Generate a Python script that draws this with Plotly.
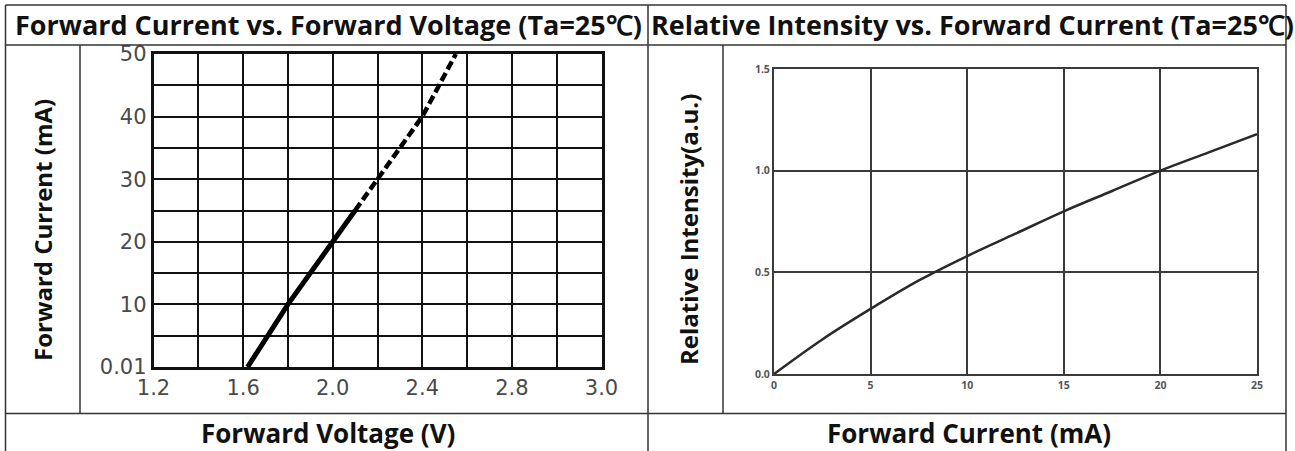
import plotly.graph_objects as go

W, H = 1295, 451


def px(x):
    return x / W


def py(y):
    return 1 - y / H


# ---------------- data ----------------
# Left chart: Forward Current vs. Forward Voltage
vf_solid = [1.62, 1.80, 2.00, 2.10]
if_solid = [0, 10, 20, 25]
vf_dash = [2.10, 2.20, 2.40, 2.55]
if_dash = [25, 30, 40, 50]
v_tickvals = [1.2, 1.4, 1.6, 1.8, 2.0, 2.2, 2.4, 2.6, 2.8, 3.0, 3.2]
v_ticktext = ["1.2", "", "1.6", "", "2.0", "", "2.4", "", "2.8", "", "3.0"]
i_tickvals = [0, 5, 10, 15, 20, 25, 30, 35, 40, 45, 50]
i_ticktext = ["0.01", "", "10", "", "20", "", "30", "", "40", "", "50"]

# Right chart: Relative Intensity vs. Forward Current
fc = [0, 2.5, 5, 7.5, 10, 12.5, 15, 17.5, 20, 22.5, 25]
rel_int = [0, 0.17, 0.32, 0.46, 0.58, 0.69, 0.80, 0.90, 1.00, 1.09, 1.18]
fc_tickvals = [0, 5, 10, 15, 20, 25]
ri_tickvals = [0, 0.5, 1.0, 1.5]
ri_ticktext = ["0.0", "0.5", "1.0", "1.5"]

title_left = "Forward Current vs. Forward Voltage (Ta=25℃)"
title_right = "Relative Intensity vs. Forward Current (Ta=25℃)"
ytitle_left = "Forward Current (mA)"
ytitle_right = "Relative Intensity(a.u.)"
xtitle_left = "Forward Voltage (V)"
xtitle_right = "Forward Current (mA)"

# ---------------- figure ----------------
fig = go.Figure()
fig.add_trace(go.Scatter(x=vf_solid, y=if_solid, mode="lines",
                         line=dict(color="#000000", width=5),
                         xaxis="x", yaxis="y", showlegend=False))
fig.add_trace(go.Scatter(x=vf_dash, y=if_dash, mode="lines",
                         line=dict(color="#000000", width=4.5, dash="9px,4px"),
                         xaxis="x", yaxis="y", showlegend=False))
fig.add_trace(go.Scatter(x=fc, y=rel_int, mode="lines",
                         line=dict(color="#2a2a2a", width=2.5, shape="spline"),
                         xaxis="x2", yaxis="y2", showlegend=False))

tick_font_left = dict(family="DejaVu Sans", size=21, color="#4a4a4a")
tick_font_right = dict(family="Open Sans", size=10.5, color="#555555", weight="bold")

fig.update_layout(
    width=W, height=H,
    margin=dict(l=0, r=0, t=0, b=0),
    paper_bgcolor="white", plot_bgcolor="white",
    xaxis=dict(domain=[px(153.5), px(601.5)], range=[1.2, 3.2],
               tickmode="array", tickvals=v_tickvals, ticktext=v_ticktext,
               showgrid=True, gridcolor="#111111", gridwidth=2,
               showline=True, linecolor="#111111", linewidth=2.5, mirror=True,
               ticks="", tickfont=tick_font_left, zeroline=False,
               anchor="y", fixedrange=True, automargin=False),
    yaxis=dict(domain=[py(367), py(54)], range=[0, 50],
               tickmode="array", tickvals=i_tickvals, ticktext=i_ticktext,
               showgrid=True, gridcolor="#111111", gridwidth=2,
               showline=True, linecolor="#111111", linewidth=2.5, mirror=True,
               ticks="", tickfont=tick_font_left, zeroline=False,
               anchor="x", fixedrange=True, automargin=False),
    xaxis2=dict(domain=[px(774), px(1257)], range=[0, 25],
                tickmode="array", tickvals=fc_tickvals,
                showgrid=True, gridcolor="#3a3a3a", gridwidth=2,
                showline=True, linecolor="#3a3a3a", linewidth=2, mirror=True,
                ticks="", tickfont=tick_font_right, zeroline=False,
                anchor="y2", fixedrange=True, automargin=False),
    yaxis2=dict(domain=[py(374), py(69)], range=[0, 1.5],
                tickmode="array", tickvals=ri_tickvals, ticktext=ri_ticktext,
                showgrid=True, gridcolor="#3a3a3a", gridwidth=2,
                showline=True, linecolor="#3a3a3a", linewidth=2, mirror=True,
                ticks="", tickfont=tick_font_right, zeroline=False,
                anchor="x2", fixedrange=True, automargin=False),
)

# table lines
line_style = dict(color="#333333", width=1.5)
segments = [
    (5.5, 5, 1286, 5),          # top
    (5.5, 5, 5.5, 451),         # left
    (1286, 5, 1286, 451),       # right
    (5.5, 45, 1286, 45),        # under titles
    (5.5, 413.5, 1286, 413.5),  # above bottom titles
    (648, 5, 648, 451),         # middle divider
    (80, 45, 80, 413.5),        # left y-title column
    (723, 45, 723, 413.5),      # right y-title column
]
for x0, y0, x1, y1 in segments:
    fig.add_shape(type="line", xref="paper", yref="paper",
                  x0=px(x0), y0=py(y0), x1=px(x1), y1=py(y1), line=line_style)

title_font = dict(family="Open Sans", size=27, color="#111111", weight="bold")
ylab_font = dict(family="Open Sans", size=24, color="#111111", weight="bold")
xlab_font = dict(family="Open Sans", size=26, color="#111111", weight="bold")

fig.add_annotation(text=title_left, xref="paper", yref="paper",
                   x=px(328), y=py(25), showarrow=False, font=title_font,
                   xanchor="center", yanchor="middle")
fig.add_annotation(text=title_right, xref="paper", yref="paper",
                   x=px(649), y=py(25), showarrow=False, font=title_font,
                   xanchor="left", yanchor="middle")
fig.add_annotation(text=ytitle_left, xref="paper", yref="paper",
                   x=px(42), y=py(230), showarrow=False, font=ylab_font,
                   textangle=-90, xanchor="center", yanchor="middle")
fig.add_annotation(text=ytitle_right, xref="paper", yref="paper",
                   x=px(688), y=py(230), showarrow=False, font=ylab_font,
                   textangle=-90, xanchor="center", yanchor="middle")
fig.add_annotation(text=xtitle_left, xref="paper", yref="paper",
                   x=px(328), y=py(433), showarrow=False, font=xlab_font,
                   xanchor="center", yanchor="middle")
fig.add_annotation(text=xtitle_right, xref="paper", yref="paper",
                   x=px(969), y=py(433), showarrow=False, font=xlab_font,
                   xanchor="center", yanchor="middle")

fig.write_html("out.html",
               config={"displayModeBar": False},
               post_script="document.body.style.margin='0px';"
                           "document.body.style.overflow='hidden';")
